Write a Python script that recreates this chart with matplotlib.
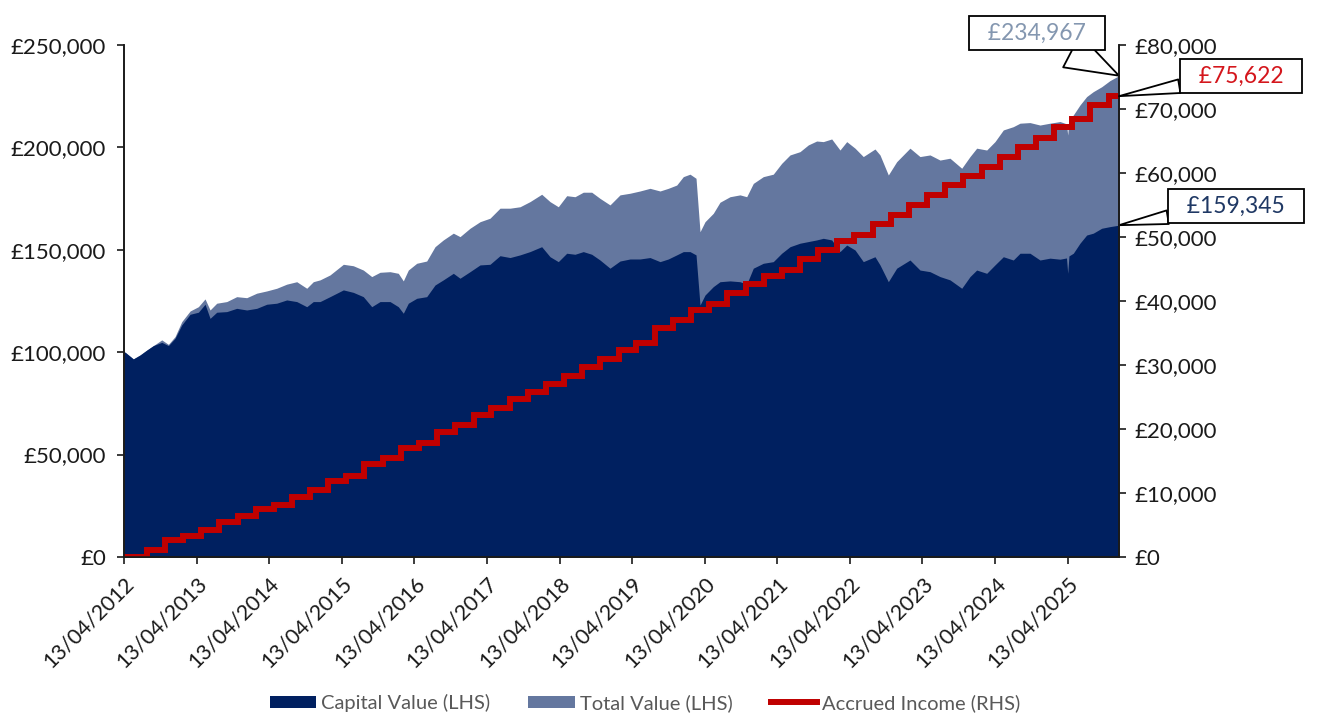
import numpy as np
import pandas as pd
import matplotlib
matplotlib.use("Agg")
import matplotlib.pyplot as plt
import matplotlib.dates as mdates
from matplotlib.ticker import FuncFormatter, MultipleLocator
from matplotlib.patches import Patch
from matplotlib.lines import Line2D

plt.rcParams['font.family'] = ['Lato', 'DejaVu Sans']

# time of each reading, in decimal years
t_value = [2012.28, 2012.294, 2012.408, 2012.50, 2012.593, 2012.684, 2012.80, 2012.891, 2012.983,
           2013.075, 2013.19, 2013.304, 2013.396, 2013.465, 2013.557, 2013.695, 2013.832, 2013.97,
           2014.108, 2014.246, 2014.383, 2014.521, 2014.659, 2014.797, 2014.887, 2014.98,
           2015.117, 2015.301, 2015.438, 2015.576, 2015.692, 2015.806, 2015.944,
           2016.058, 2016.127, 2016.196, 2016.312, 2016.449, 2016.564, 2016.678, 2016.816, 2016.908,
           2017.046, 2017.184, 2017.321, 2017.459, 2017.597, 2017.735, 2017.872,
           2018.033, 2018.148, 2018.262, 2018.378, 2018.492, 2018.606, 2018.722, 2018.836, 2018.974,
           2019.112, 2019.25, 2019.387, 2019.525, 2019.663, 2019.777, 2019.893, 2019.984,
           2020.076, 2020.159, 2020.214, 2020.283, 2020.397, 2020.489, 2020.627, 2020.765, 2020.857, 2020.948,
           2021.086, 2021.223, 2021.339, 2021.454, 2021.591, 2021.706, 2021.821, 2021.912,
           2022.028, 2022.142, 2022.235, 2022.349, 2022.463, 2022.624, 2022.693, 2022.808, 2022.923,
           2023.106, 2023.244, 2023.382, 2023.52, 2023.657, 2023.819, 2023.933,
           2024.025, 2024.163, 2024.277, 2024.392, 2024.529, 2024.622, 2024.759, 2024.897,
           2025.035, 2025.173, 2025.262, 2025.279, 2025.296, 2025.356, 2025.448, 2025.54, 2025.631,
           2025.747, 2025.861, 2025.985]

# £ thousands
total_value = [100.0, 100.0, 96.7, 98.6, 101.0, 103.2, 106.0, 103.8, 107.6,
               114.9, 120.1, 122.2, 126.0, 120.6, 123.9, 124.7, 127.1, 126.6,
               128.8, 129.9, 131.2, 133.2, 134.4, 131.2, 134.4, 135.3,
               137.7, 142.9, 142.2, 140.1, 136.9, 139.0, 139.3,
               138.5, 134.8, 140.1, 143.4, 144.5, 151.5, 154.8, 158.1, 156.4,
               160.5, 163.7, 165.4, 170.3, 170.3, 171.0, 173.5,
               177.1, 173.5, 171.0, 176.4, 175.9, 178.1, 178.1, 175.1, 171.9,
               176.8, 177.6, 178.7, 180.0, 178.7, 180.0, 181.6, 185.7,
               186.9, 184.9, 158.8, 163.7, 167.8, 173.2, 175.9, 176.8, 175.9, 182.4,
               185.7, 186.9, 192.2, 196.3, 197.9, 201.2, 203.1, 202.8,
               204.1, 198.7, 202.8, 199.6, 195.5, 199.2, 196.3, 186.5, 193.0,
               199.6, 195.5, 196.3, 193.8, 194.7, 189.8, 195.5,
               199.6, 198.7, 202.8, 208.5, 210.1, 211.8, 212.1, 210.9,
               211.8, 212.6, 211.5, 206.0, 213.5, 215.8, 220.7, 224.8, 227.2,
               229.6, 232.6, 235.0]

capital_value = [100.0, 100.0, 96.7, 98.6, 101.0, 103.2, 104.8, 103.2, 106.8,
                 113.3, 118.5, 119.5, 123.4, 116.5, 119.5, 119.8, 121.4, 120.6,
                 121.4, 123.4, 123.9, 125.5, 124.7, 122.2, 124.7, 124.7,
                 127.1, 130.4, 129.2, 127.1, 122.2, 124.7, 124.7,
                 122.2, 119.0, 123.9, 126.3, 127.1, 132.8, 135.3, 138.5, 136.1,
                 139.3, 142.6, 142.9, 147.1, 146.2, 147.5, 149.1,
                 151.5, 146.6, 144.2, 148.3, 147.8, 149.1, 147.8, 145.0, 141.0,
                 144.5, 145.5, 145.5, 146.2, 144.2, 145.5, 147.5, 149.1,
                 149.1, 147.5, 123.0, 127.9, 132.0, 134.4, 134.8, 134.4, 133.2, 141.0,
                 143.4, 144.2, 148.3, 151.5, 153.2, 154.0, 154.8, 155.6,
                 154.8, 149.1, 152.3, 149.9, 144.2, 146.6, 142.6, 134.4, 141.0,
                 145.0, 140.1, 139.3, 136.9, 135.3, 131.2, 136.9,
                 140.1, 138.5, 142.6, 146.6, 145.0, 148.3, 148.3, 145.0,
                 145.9, 145.4, 146.0, 138.5, 147.0, 148.3, 153.2, 157.2, 158.1,
                 160.5, 161.3, 162.0]

# accrued income, £ thousands: start value then level after each quarterly payment
income_start = '2012-04-13'
first_payment = '2012-08-05'
income_levels = [0, 1.1, 2.66, 3.28, 4.2, 5.4, 6.4, 7.45, 8.1, 9.4, 10.5, 11.9, 12.7, 14.6, 15.4,
                 17.0, 17.8, 19.6, 20.6, 22.2, 23.2, 24.7, 25.8, 27.1, 28.2, 29.7, 31.0, 32.4,
                 33.4, 35.7, 37.1, 38.6, 39.6, 41.2, 42.7, 43.9, 44.8, 46.5, 47.9, 49.3, 50.3,
                 52.0, 53.4, 55.0, 56.6, 58.1, 59.5, 61.0, 62.5, 64.1, 65.4, 67.2, 68.5, 70.6, 72.0]

callouts = ['£234,967', '£75,622', '£159,345']
legend_labels = ['Capital Value (LHS)', 'Total Value (LHS)', 'Accrued Income (RHS)']

navy = '#002060'
slate = '#64779F'
red = '#C00000'
ink = '#1a1a1a'


def to_date(y):
    return pd.Timestamp('2012-04-13') + pd.to_timedelta((np.asarray(y) - 2012.28) * 365.25, unit='D')


dates = to_date(t_value)
total = np.array(total_value) * 1000
capital = np.array(capital_value) * 1000

pay_dates = pd.date_range(first_payment, periods=len(income_levels) - 1, freq=pd.DateOffset(months=3))
inc_dates = list(pd.DatetimeIndex([income_start]).append(pay_dates)) + [dates[-1]]
inc_vals = np.array(income_levels + [income_levels[-1]]) * 1000

fig = plt.figure(figsize=(13.28, 7.16), dpi=100)
ax = fig.add_axes([0.0934, 0.2221, 0.7492, 0.7151])

ax.fill_between(dates, total, color=slate, lw=0)
ax.fill_between(dates, capital, color=navy, lw=0)
ax.set_ylim(0, 250000)
ax.set_xlim(dates[0], dates[-1])
ax.yaxis.set_major_locator(MultipleLocator(50000))
ax.yaxis.set_major_formatter(FuncFormatter(lambda v, p: '£{:,.0f}'.format(v)))

ax2 = ax.twinx()
ax2.step(inc_dates, inc_vals, where='post', color=red, lw=4.3, solid_joinstyle='miter')
ax2.set_ylim(0, 80000)
ax2.yaxis.set_major_locator(MultipleLocator(10000))
ax2.yaxis.set_major_formatter(FuncFormatter(lambda v, p: '£{:,.0f}'.format(v)))

xticks = [pd.Timestamp(y, 4, 13) for y in range(2012, 2026)]
ax.set_xticks(xticks)
ax.xaxis.set_major_formatter(mdates.DateFormatter('%d/%m/%Y'))

for a in (ax, ax2):
    a.spines['top'].set_visible(False)
    for s in ('left', 'right', 'bottom'):
        a.spines[s].set_linewidth(1.2)
        a.spines[s].set_color(ink)
    a.tick_params(length=5, width=1.2, labelsize=16, colors=ink, direction='out')
ax.tick_params(axis='x', pad=7, labelsize=15.5)
ax.tick_params(axis='y', pad=8)
ax2.tick_params(axis='y', pad=6)
for lab in ax.get_xticklabels():
    lab.set_rotation(45)
    lab.set_ha('right')
    lab.set_rotation_mode('anchor')

# callouts
box = dict(boxstyle='square,pad=0.3', fc='white', ec='black', lw=1.3)
ax.annotate('  ' + callouts[0] + '  ', xy=(dates[-1], total[-1]), xycoords='data',
            xytext=(1037, 716 - 33), textcoords='figure pixels', ha='center', va='center',
            fontsize=16.5, color='#8497B0', bbox=box, zorder=10, annotation_clip=False,
            arrowprops=dict(arrowstyle='wedge,tail_width=1.6', fc='white', ec='black', lw=1.3,
                            shrinkA=0, shrinkB=0))
ax2.annotate('  ' + callouts[1] + '  ', xy=(dates[-1], inc_vals[-1]), xycoords='data',
             xytext=(1241, 716 - 76), textcoords='figure pixels', ha='center', va='center',
             fontsize=16.5, color='#D4161C', bbox=box, zorder=10, annotation_clip=False,
             arrowprops=dict(arrowstyle='wedge,tail_width=0.6', fc='white', ec='black', lw=1.3,
                             shrinkA=0, shrinkB=0))
ax.annotate('  ' + callouts[2] + '  ', xy=(dates[-1], capital[-1]), xycoords='data',
            xytext=(1236, 716 - 206), textcoords='figure pixels', ha='center', va='center',
            fontsize=16.5, color='#1F3864', bbox=box, zorder=10, annotation_clip=False,
            arrowprops=dict(arrowstyle='wedge,tail_width=0.6', fc='white', ec='black', lw=1.3,
                            shrinkA=0, shrinkB=0))

handles = [Patch(facecolor=navy, edgecolor='none'),
           Patch(facecolor=slate, edgecolor='none'),
           Line2D([0], [0], color=red, lw=4.3)]
fig.legend(handles, legend_labels, loc='center', bbox_to_anchor=(645 / 1328, 1 - 703 / 716),
           ncol=3, frameon=False, fontsize=14.5, labelcolor='#595959', handlelength=2.3,
           handleheight=0.6, handletextpad=0.25, columnspacing=1.9)

fig.savefig('out.png', dpi=100, facecolor='white')
